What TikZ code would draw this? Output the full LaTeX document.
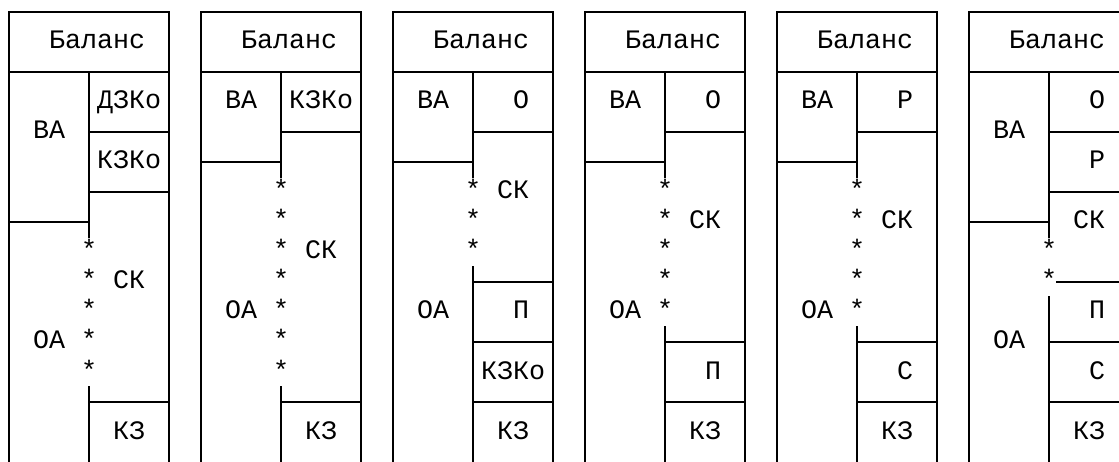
\documentclass[tikz,border=0pt]{standalone}
\usepackage{fontspec}
\newfontfamily\monofont{Liberation Mono}
\tikzset{
  rule/.style={line width=1.5pt, line cap=rect},
  lbl/.style={anchor=base west, inner sep=0pt, outer sep=0pt,
    font=\monofont\fontsize{26.67pt}{30pt}\selectfont, yshift=-7pt},
}
% one balance sheet: outer frame, header row and its title
\newcommand\sheetframe[2]{%
  \draw[rule] (#1,15.6) -- (#1,0) -- (#1+10,0) -- (#1+10,15.6);
  \draw[rule] (#1,2) -- (#1+10,2);
  \node[lbl] (#2-title) at (#1+2.5,1) {Баланс};
}
% a column of asterisks at one grid column, rows #2..#3
\newcommand\starcol[4]{%
  \foreach \r in {#2,...,#3} {\node[lbl] (#4-star-\r) at (#1-0.5,\r) {*};}
}
\begin{document}
\begin{tikzpicture}[x=16pt,y=-30pt]
\useasboundingbox (-0.5625,-0.4) rectangle (69.375,15);

% ---- sheet 1
\sheetframe{0}{a}
\draw[rule] (5,2) -- (5,7.5);
\draw[rule] (5,12.5) -- (5,15.6);
\draw[rule] (5,4) -- (10,4);
\draw[rule] (5,6) -- (10,6);
\draw[rule] (0,7) -- (5,7);
\draw[rule] (5,13) -- (10,13);
\node[lbl] (a-dzko) at (5.5,3) {ДЗКо};
\node[lbl] (a-va) at (1.5,4) {ВА};
\node[lbl] (a-kzko) at (5.5,5) {КЗКо};
\node[lbl] (a-sk) at (6.5,9) {СК};
\node[lbl] (a-oa) at (1.5,11) {ОА};
\node[lbl] (a-kz) at (6.5,14) {КЗ};
\starcol{5}{8}{12}{a}

% ---- sheet 2
\sheetframe{12}{b}
\draw[rule] (17,2) -- (17,5.5);
\draw[rule] (17,12.5) -- (17,15.6);
\draw[rule] (17,4) -- (22,4);
\draw[rule] (12,5) -- (17,5);
\draw[rule] (17,13) -- (22,13);
\node[lbl] (b-va) at (13.5,3) {ВА};
\node[lbl] (b-kzko) at (17.5,3) {КЗКо};
\node[lbl] (b-sk) at (18.5,8) {СК};
\node[lbl] (b-oa) at (13.5,10) {ОА};
\node[lbl] (b-kz) at (18.5,14) {КЗ};
\starcol{17}{6}{12}{b}

% ---- sheet 3
\sheetframe{24}{c}
\draw[rule] (29,2) -- (29,5.5);
\draw[rule] (29,8.5) -- (29,15.6);
\draw[rule] (29,4) -- (34,4);
\draw[rule] (24,5) -- (29,5);
\draw[rule] (29,9) -- (34,9);
\draw[rule] (29,11) -- (34,11);
\draw[rule] (29,13) -- (34,13);
\node[lbl] (c-va) at (25.5,3) {ВА};
\node[lbl] (c-o) at (31.5,3) {О};
\node[lbl] (c-sk) at (30.5,6) {СК};
\node[lbl] (c-oa) at (25.5,10) {ОА};
\node[lbl] (c-p) at (31.5,10) {П};
\node[lbl] (c-kzko) at (29.5,12) {КЗКо};
\node[lbl] (c-kz) at (30.5,14) {КЗ};
\starcol{29}{6}{8}{c}

% ---- sheet 4
\sheetframe{36}{d}
\draw[rule] (41,2) -- (41,5.5);
\draw[rule] (41,10.5) -- (41,15.6);
\draw[rule] (41,4) -- (46,4);
\draw[rule] (36,5) -- (41,5);
\draw[rule] (41,11) -- (46,11);
\draw[rule] (41,13) -- (46,13);
\node[lbl] (d-va) at (37.5,3) {ВА};
\node[lbl] (d-o) at (43.5,3) {О};
\node[lbl] (d-sk) at (42.5,7) {СК};
\node[lbl] (d-oa) at (37.5,10) {ОА};
\node[lbl] (d-p) at (43.5,12) {П};
\node[lbl] (d-kz) at (42.5,14) {КЗ};
\starcol{41}{6}{10}{d}

% ---- sheet 5
\sheetframe{48}{e}
\draw[rule] (53,2) -- (53,5.5);
\draw[rule] (53,10.5) -- (53,15.6);
\draw[rule] (53,4) -- (58,4);
\draw[rule] (48,5) -- (53,5);
\draw[rule] (53,11) -- (58,11);
\draw[rule] (53,13) -- (58,13);
\node[lbl] (e-va) at (49.5,3) {ВА};
\node[lbl] (e-r) at (55.5,3) {Р};
\node[lbl] (e-sk) at (54.5,7) {СК};
\node[lbl] (e-oa) at (49.5,10) {ОА};
\node[lbl] (e-s) at (55.5,12) {С};
\node[lbl] (e-kz) at (54.5,14) {КЗ};
\starcol{53}{6}{10}{e}

% ---- sheet 6
\sheetframe{60}{f}
\draw[rule] (65,2) -- (65,7.5);
\draw[rule] (65,9.5) -- (65,15.6);
\draw[rule] (65,4) -- (70,4);
\draw[rule] (65,6) -- (70,6);
\draw[rule] (60,7) -- (65,7);
\draw[rule] (65.5,9) -- (70,9);
\draw[rule] (65,11) -- (70,11);
\draw[rule] (65,13) -- (70,13);
\node[lbl] (f-o) at (67.5,3) {О};
\node[lbl] (f-va) at (61.5,4) {ВА};
\node[lbl] (f-r) at (67.5,5) {Р};
\node[lbl] (f-sk) at (66.5,7) {СК};
\node[lbl] (f-p) at (67.5,10) {П};
\node[lbl] (f-oa) at (61.5,11) {ОА};
\node[lbl] (f-s) at (67.5,12) {С};
\node[lbl] (f-kz) at (66.5,14) {КЗ};
\starcol{65}{8}{9}{f}
\end{tikzpicture}
\end{document}
